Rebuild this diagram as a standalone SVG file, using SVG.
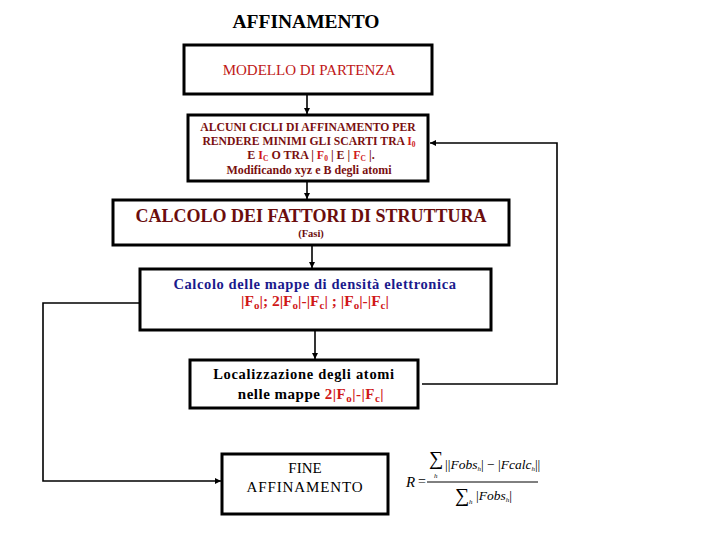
<svg xmlns="http://www.w3.org/2000/svg" width="720" height="540" viewBox="0 0 720 540" font-family="'Liberation Serif', 'Times New Roman', serif">
<defs>
<marker id="arr" viewBox="0 0 10 10" refX="10" refY="5" markerWidth="7" markerHeight="6" markerUnits="userSpaceOnUse" orient="auto">
<path d="M0,0 L10,5 L0,10 z" fill="#000"/>
</marker>
<style>
.box{fill:#fff;stroke:#000;stroke-width:3}
.con{fill:none;stroke:#000;stroke-width:1.6}
text{font-family:'Liberation Serif','Times New Roman',serif}
.t{text-anchor:middle}
.b{font-weight:bold}
.dr{fill:#7a1010}
.rd{fill:#d01818}
.bl{fill:#1a1a8c}
.k{fill:#000}
.m{font-style:italic;fill:#000}
</style>
</defs>
<rect width="720" height="540" fill="#fff"/>

<text class="t b k" x="306" y="28" font-size="19.5">AFFINAMENTO</text>

<g id="connectors">
<line class="con" x1="307" y1="95" x2="307" y2="114" marker-end="url(#arr)"/>
<line class="con" x1="307" y1="182" x2="307" y2="199" marker-end="url(#arr)"/>
<line class="con" x1="312" y1="246" x2="312" y2="268" marker-end="url(#arr)"/>
<line class="con" x1="315" y1="331" x2="315" y2="359" marker-end="url(#arr)"/>
<polyline class="con" points="143,303 43,303 43,481 221,481" marker-end="url(#arr)"/>
<polyline class="con" points="422,384 557,384 557,143 430,143" marker-end="url(#arr)"/>
</g>

<g id="modello">
<rect class="box" x="184" y="45" width="248" height="49"/>
<text class="t" x="309" y="75" font-size="15" fill="#c01818">MODELLO DI PARTENZA</text>
</g>

<g id="cicli">
<rect class="box" x="188" y="115" width="240" height="66"/>
<text class="t b dr" x="308" y="131" font-size="11.7">ALCUNI CICLI DI AFFINAMENTO PER</text>
<text class="t b dr" x="309" y="145" font-size="11.7">RENDERE MINIMI GLI SCARTI TRA <tspan class="rd">I</tspan><tspan class="rd" font-size="7.5" dy="2">0</tspan></text>
<text class="t b dr" x="311" y="158.5" font-size="12">E <tspan class="rd">I</tspan><tspan class="rd" font-size="7.5" dy="2">C</tspan><tspan dy="-2">  O TRA  |  </tspan><tspan class="rd">F</tspan><tspan class="rd" font-size="7.5" dy="2">0</tspan><tspan dy="-2"> |  E  |  </tspan><tspan class="rd">F</tspan><tspan class="rd" font-size="7.5" dy="2">C</tspan><tspan dy="-2"> |.</tspan></text>
<text class="t b dr" x="309" y="174" font-size="12">Modificando xyz e B degli atomi</text>
</g>

<g id="calcolo-fattori">
<rect class="box" x="113" y="200" width="396" height="45"/>
<text class="t b" x="311" y="222" font-size="18" fill="#6b0d0d">CALCOLO DEI FATTORI DI STRUTTURA</text>
<text class="t b" x="311" y="237" font-size="10.5" fill="#6b0d0d">(Fasi)</text>
</g>

<g id="calcolo-mappe">
<rect class="box" x="140" y="269" width="351" height="61"/>
<text class="t b bl" x="315" y="289" font-size="14.5" letter-spacing="0.6">Calcolo delle mappe di densità elettronica</text>
<text class="t b rd" x="315" y="306" font-size="15.5"><tspan>|F</tspan><tspan font-size="11" dy="3">o</tspan><tspan dy="-3">|; 2|F</tspan><tspan font-size="11" dy="3">o</tspan><tspan dy="-3">|-|F</tspan><tspan font-size="11" dy="3">c</tspan><tspan dy="-3">| ; |F</tspan><tspan font-size="11" dy="3">o</tspan><tspan dy="-3">|-|F</tspan><tspan font-size="11" dy="3">c</tspan><tspan dy="-3">|</tspan></text>
</g>

<g id="localizzazione">
<rect class="box" x="190" y="360" width="228" height="48"/>
<text class="t b k" x="304" y="379" font-size="14.5" letter-spacing="0.7">Localizzazione degli atomi</text>
<text class="t b k" x="311" y="399" font-size="15" letter-spacing="0.5">nelle mappe <tspan class="rd">2|F</tspan><tspan class="rd" font-size="11" dy="3">o</tspan><tspan class="rd" dy="-3">|-|F</tspan><tspan class="rd" font-size="11" dy="3">c</tspan><tspan class="rd" dy="-3">|</tspan></text>
</g>

<g id="fine">
<rect class="box" x="222" y="454" width="166" height="60"/>
<text class="t k" x="305" y="473" font-size="15">FINE</text>
<text class="t k" x="305" y="492" font-size="15" letter-spacing="0.9">AFFINAMENTO</text>
</g>

<g id="formula">
<text class="m" x="406" y="487" font-size="15">R</text>
<text x="418" y="486" font-size="14" fill="#000">=</text>
<line x1="427" y1="482" x2="538" y2="482" stroke="#000" stroke-width="1"/>
<text x="429" y="465" font-size="20" fill="#000">∑</text>
<text class="m" x="434" y="478" font-size="7">h</text>
<text x="445" y="469" font-size="13.5" fill="#000">||<tspan class="m">Fobs</tspan><tspan class="m" font-size="7" dy="2">h</tspan><tspan dy="-2">| − |</tspan><tspan class="m">Fcalc</tspan><tspan class="m" font-size="7" dy="2">h</tspan><tspan dy="-2">||</tspan></text>
<text x="455" y="502" font-size="20" fill="#000">∑</text>
<text class="m" x="469" y="504" font-size="7">h</text>
<text x="476" y="500" font-size="13.5" fill="#000">|<tspan class="m">Fobs</tspan><tspan class="m" font-size="7" dy="2">h</tspan><tspan dy="-2">|</tspan></text>
</g>
</svg>
